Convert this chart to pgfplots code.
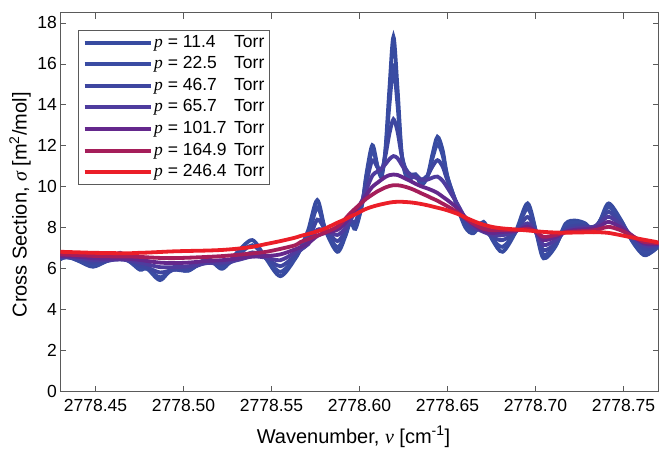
\documentclass[border=0pt]{standalone}
\usepackage{fontspec}
\setmainfont{Liberation Sans}
\newfontfamily\serif{Liberation Serif}
\usepackage{pgfplots}
\pgfplotsset{compat=1.18}
\usepackage{pgfplotstable}

\definecolor{axisgray}{RGB}{90,90,90}
\definecolor{p1}{RGB}{55,75,160}
\definecolor{p2}{RGB}{58,76,163}
\definecolor{p3}{RGB}{62,70,160}
\definecolor{p4}{RGB}{78,60,158}
\definecolor{p5}{RGB}{100,40,140}
\definecolor{p6}{RGB}{165,30,90}
\definecolor{p7}{RGB}{235,30,40}

% absorption cross section at seven pressures (columns c1 ... c7)
\pgfplotstableread{
x         c1    c2    c3    c4    c5    c6    c7
2778.4300 6.45  6.48  6.52  6.58  6.63  6.70  6.83
2778.4338 6.62  6.58  6.55  6.58  6.62  6.69  6.82
2778.4412 6.35  6.38  6.45  6.52  6.58  6.66  6.80
2778.4486 6.10  6.18  6.30  6.42  6.52  6.63  6.78
2778.4566 6.40  6.38  6.38  6.42  6.50  6.61  6.77
2778.4640 6.78  6.65  6.50  6.45  6.50  6.60  6.76
2778.4697 6.35  6.33  6.35  6.40  6.48  6.60  6.76
2778.4753 5.95  6.02  6.15  6.30  6.43  6.58  6.78
2778.4793 6.02  6.00  6.07  6.22  6.38  6.56  6.79
2778.4867 5.45  5.58  5.82  6.08  6.30  6.53  6.82
2778.4941 6.05  5.95  5.95  6.08  6.28  6.52  6.85
2778.5027 5.90  5.92  6.00  6.12  6.30  6.54  6.87
2778.5135 6.50  6.42  6.30  6.28  6.38  6.58  6.89
2778.5220 6.00  6.08  6.20  6.30  6.42  6.62  6.92
2778.5305 6.80  6.62  6.45  6.42  6.50  6.68  6.98
2778.5391 7.40  7.15  6.80  6.60  6.60  6.75  7.07
2778.5465 6.55  6.55  6.55  6.55  6.62  6.82  7.20
2778.5550 5.64  5.85  6.13  6.42  6.70  6.97  7.35
2778.5635 6.50  6.55  6.65  6.80  6.95  7.15  7.52
2778.5664 7.00  6.95  6.90  6.95  7.05  7.30  7.60
2778.5709 7.90  7.60  7.30  7.20  7.25  7.45  7.70
2778.5760 9.35  9.00  8.40  7.90  7.60  7.62  7.83
2778.5806 7.90  7.90  7.90  7.85  7.75  7.78  7.97
2778.5874 6.83  7.05  7.35  7.65  7.90  8.05  8.25
2778.5920 7.60  7.70  7.85  8.00  8.25  8.45  8.42
2778.5948 8.30  8.30  8.35  8.40  8.55  8.72  8.55
2778.5977 7.95  8.05  8.30  8.75  8.85  8.95  8.66
2778.6016 9.20  9.20  9.30  9.35  9.30  9.25  8.84
2778.6039 10.60 10.45 10.20 9.85  9.60  9.42  8.93
2778.6073 12.03 11.80 11.30 10.55 10.00 9.62  9.03
2778.6102 11.00 11.00 10.95 10.75 10.20 9.78  9.10
2778.6125 10.50 10.60 10.80 10.90 10.35 9.88  9.15
2778.6147 11.80 11.70 11.50 11.10 10.48 9.97  9.19
2778.6170 14.80 14.00 12.60 11.35 10.57 10.04 9.23
2778.6193 17.32 15.80 13.30 11.50 10.60 10.08 9.26
2778.6216 14.80 14.00 12.70 11.40 10.58 10.08 9.27
2778.6238 11.80 11.70 11.60 11.10 10.50 10.05 9.27
2778.6261 10.60 10.70 10.90 10.80 10.40 10.00 9.26
2778.6290 10.40 10.45 10.60 10.55 10.28 9.92  9.24
2778.6318 10.60 10.60 10.60 10.45 10.15 9.82  9.21
2778.6352 10.10 10.20 10.35 10.35 10.02 9.68  9.16
2778.6386 10.50 10.50 10.55 10.35 9.92  9.55  9.10
2778.6415 11.60 11.40 11.00 10.45 9.82  9.43  9.04
2778.6443 12.44 12.10 11.30 10.50 9.70  9.32  8.98
2778.6472 11.80 11.55 11.00 10.30 9.52  9.18  8.92
2778.6500 10.50 10.45 10.30 9.95  9.35  9.05  8.85
2778.6557 9.00  9.05  9.10  9.15  8.95  8.75  8.68
2778.6603 8.00  8.10  8.25  8.45  8.50  8.45  8.50
2778.6648 7.74  7.82  7.95  8.05  8.15  8.20  8.33
2778.6705 8.29  8.10  7.90  7.80  7.85  7.95  8.15
2778.6756 7.40  7.45  7.55  7.65  7.75  7.88  8.04
2778.6813 6.83  7.07  7.40  7.64  7.80  7.90  7.97
2778.6887 7.80  7.80  7.80  7.82  7.85  7.88  7.92
2778.6955 9.19  8.94  8.53  8.22  8.05  7.95  7.87
2778.7006 7.70  7.72  7.75  7.75  7.77  7.80  7.83
2778.7046 6.51  6.67  6.91  7.16  7.40  7.56  7.80
2778.7114 7.10  7.15  7.25  7.40  7.55  7.65  7.77
2778.7171 8.20  8.10  7.95  7.85  7.80  7.78  7.76
2778.7228 8.35  8.25  8.10  7.98  7.90  7.82  7.77
2778.7285 8.20  8.15  8.10  8.02  7.93  7.85  7.78
2778.7330 7.80  7.90  8.00  8.05  7.97  7.88  7.79
2778.7370 8.40  8.40  8.35  8.25  8.10  7.95  7.78
2778.7416 9.19  9.02  8.78  8.54  8.29  8.05  7.75
2778.7484 8.40  8.35  8.25  8.15  8.02  7.88  7.64
2778.7553 7.30  7.35  7.45  7.55  7.60  7.58  7.52
2778.7615 6.67  6.83  7.00  7.14  7.24  7.32  7.42
2778.7666 6.85  6.92  7.02  7.12  7.20  7.27  7.34
2778.7706 7.16  7.17  7.18  7.20  7.22  7.25  7.27
}\spectra

\newcommand{\pent}[1]{\makebox[80pt][l]{{\serif\itshape p} = #1}Torr}

\begin{document}
\begin{tikzpicture}
\begin{axis}[
  scale only axis,
  width=598.4pt, height=379pt,
  xmin=2778.43, xmax=2778.77,
  ymin=0, ymax=18.5,
  xtick={2778.45,2778.50,2778.55,2778.60,2778.65,2778.70,2778.75},
  ytick={0,2,...,18},
  tick align=inside,
  major tick length=6pt,
  axis line style={draw=axisgray, line width=0.8pt},
  every tick/.style={draw=axisgray, line width=0.8pt},
  font=\fontsize{17.5}{20}\selectfont,
  /pgf/number format/assume math mode=true,
  x tick label style={yshift=-4pt,
    /pgf/number format/fixed,
    /pgf/number format/fixed zerofill,
    /pgf/number format/precision=2,
    /pgf/number format/1000 sep={}},
  xlabel={Wavenumber, {\serif\itshape ν} [cm\textsuperscript{-1}]},
  ylabel={Cross Section, {\serif\itshape σ} [m\textsuperscript{2}/mol]},
  label style={font=\fontsize{20}{24}\selectfont},
  xlabel style={at={(axis description cs:0.49,-0.1195)}, anchor=center},
  ylabel style={at={(axis description cs:-0.0673,0.493)}, anchor=center},
  legend style={at={(axis description cs:0.0301,0.9544)}, anchor=north west,
    draw=axisgray, line width=0.8pt, fill=white,
    font=\fontsize{17.5}{20}\selectfont,
    inner xsep=4pt, inner ysep=1.5pt, row sep=0pt,
    nodes={inner sep=1.5pt, text height=13.8pt, text depth=4.8pt}},
  legend cell align=left,
  legend image code/.code={\draw[#1, line width=4pt] (0pt,0pt) -- (66pt,0pt);},
  every axis plot/.append style={line width=3.8pt, smooth},
]
\coordinate (bl) at (rel axis cs:0,0);
\addplot[p1] table[x=x, y=c1] {\spectra}; \addlegendentry{\pent{11.4}}
\addplot[p2] table[x=x, y=c2] {\spectra}; \addlegendentry{\pent{22.5}}
\addplot[p3] table[x=x, y=c3] {\spectra}; \addlegendentry{\pent{46.7}}
\addplot[p4] table[x=x, y=c4] {\spectra}; \addlegendentry{\pent{65.7}}
\addplot[p5] table[x=x, y=c5] {\spectra}; \addlegendentry{\pent{101.7}}
\addplot[p6] table[x=x, y=c6] {\spectra}; \addlegendentry{\pent{164.9}}
\addplot[p7] table[x=x, y=c7] {\spectra}; \addlegendentry{\pent{246.4}}
\end{axis}
\pgfresetboundingbox
\path[use as bounding box] ([shift={(-60.3pt,-58.3pt)}]bl) rectangle ++(665pt,450pt);
\end{tikzpicture}
\end{document}
